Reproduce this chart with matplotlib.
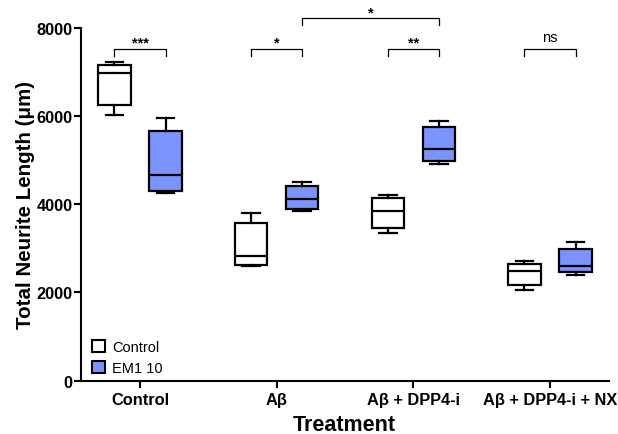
import matplotlib.pyplot as plt
import numpy as np

plt.rcParams['font.family'] = ['Liberation Sans', 'DejaVu Sans']

# box summaries: whisker low, q1, median, q3, whisker high
groups = ["Control", "Aβ", "Aβ + DPP4-i", "Aβ + DPP4-i + NX"]
ctrl_low = [6016, 2599, 3354, 2054]
ctrl_q1 = [6243, 2628, 3454, 2168]
ctrl_med = [6975, 2825, 3839, 2485]
ctrl_q3 = [7163, 3574, 4141, 2637]
ctrl_high = [7218, 3800, 4209, 2712]

em_low = [4254, 3839, 4918, 2395]
em_q1 = [4306, 3884, 4973, 2469]
em_med = [4655, 4118, 5252, 2592]
em_q3 = [5667, 4420, 5751, 2991]
em_high = [5955, 4510, 5887, 3136]

# significance brackets: (left box, right box, label)
pairs = [((0, 0), (0, 1), "***"), ((1, 0), (1, 1), "*"),
         ((2, 0), (2, 1), "**"), ((3, 0), (3, 1), "ns")]
long_pair = ((1, 1), (2, 1), "*")

blue = "#7b93ff"
off = 0.187
bw = 0.237

fig = plt.figure(figsize=(6.18, 4.35), dpi=100)
ax = fig.add_axes([0.1306, 0.1228, 0.8544, 0.811])

def stats(lo, q1, med, q3, hi):
    return [dict(whislo=a, q1=b, med=c, q3=d, whishi=e, fliers=[])
            for a, b, c, d, e in zip(lo, q1, med, q3, hi)]

x = np.arange(len(groups))
for st, pos, fc in [(stats(ctrl_low, ctrl_q1, ctrl_med, ctrl_q3, ctrl_high), x - off, "white"),
                    (stats(em_low, em_q1, em_med, em_q3, em_high), x + off, blue)]:
    ax.bxp(st, positions=pos, widths=bw, capwidths=0.13, patch_artist=True,
           showfliers=False,
           boxprops=dict(facecolor=fc, edgecolor="black", linewidth=1.6),
           medianprops=dict(color="black", linewidth=1.6),
           whiskerprops=dict(color="black", linewidth=1.6),
           capprops=dict(color="black", linewidth=1.6))

def xpos(p):
    return p[0] + (off if p[1] else -off)

def bracket(p1, p2, y, label, h=160):
    x1, x2 = xpos(p1), xpos(p2)
    ax.plot([x1, x1, x2, x2], [y - h, y, y, y - h], color="black", lw=0.9,
            clip_on=False)
    if label == "ns":
        ax.text((x1 + x2) / 2, y + 110, label, ha="center", va="bottom",
                fontsize=10.5)
    else:
        ax.text((x1 + x2) / 2, y - 20, label, ha="center", va="bottom",
                fontsize=10.5, fontweight="bold")

for p1, p2, lab in pairs:
    bracket(p1, p2, 7520, lab)
bracket(long_pair[0], long_pair[1], 8215, long_pair[2])

ax.set_xlim(-0.434, 3.43)
ax.set_ylim(0, 8000)
ax.set_yticks([0, 2000, 4000, 6000, 8000])
ax.set_xticks(x)
ax.set_xticklabels(groups, fontweight="bold", fontsize=11.8)
for lab in ax.get_yticklabels():
    lab.set_fontweight("bold")
    lab.set_fontsize(11.8)
ax.tick_params(direction="out", length=5, width=1.5, pad=1)
ax.tick_params(axis="x", pad=3)
for s in ["top", "right"]:
    ax.spines[s].set_visible(False)
for s in ["left", "bottom"]:
    ax.spines[s].set_linewidth(1.5)

ax.set_ylabel("Total Neurite Length (μm)", fontsize=14.8, fontweight="bold",
              labelpad=1)
ax.set_xlabel("Treatment", fontsize=15.5, fontweight="bold", labelpad=5)

h1 = plt.Rectangle((0, 0), 1, 1, facecolor="white", edgecolor="black", lw=1.5)
h2 = plt.Rectangle((0, 0), 1, 1, facecolor=blue, edgecolor="black", lw=1.5)
ax.legend([h1, h2], ["Control", "EM1 10"], loc="lower left", frameon=False,
          fontsize=10.5, handlelength=0.9, handleheight=0.9, handletextpad=0.5,
          borderaxespad=0.0, labelspacing=0.45, bbox_to_anchor=(0.01, 0))

fig.savefig("out.png", dpi=100)
